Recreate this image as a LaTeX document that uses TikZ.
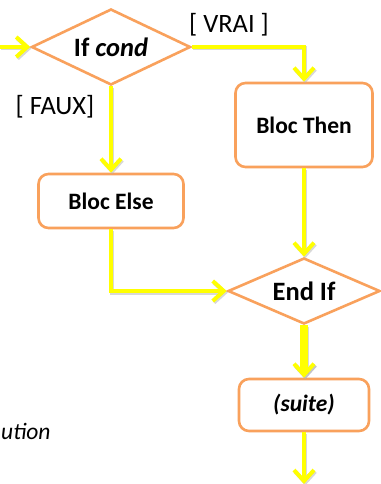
\documentclass[tikz,border=0pt]{standalone}
\usepackage{fontspec}
\setmainfont{Carlito}
\usetikzlibrary{shapes.geometric,arrows.meta}
\definecolor{flowyellow}{HTML}{FFFF00}
\definecolor{boxorange}{HTML}{F9A15C}
\begin{document}
\begin{tikzpicture}[x=1pt,y=-1pt,
  decision/.style={diamond,draw=boxorange,line width=2.6pt,fill=white,
    inner sep=0pt,aspect=2,font=\fontsize{26.5}{30}\selectfont\bfseries},
  block/.style={rectangle,rounded corners=10pt,draw=boxorange,line width=2.6pt,
    fill=white,inner sep=0pt,font=\fontsize{23.5}{28}\selectfont\bfseries},
  guard/.style={inner sep=0pt,font=\fontsize{26.5}{30}\selectfont},
  flow/.style={draw=flowyellow,line width=4pt,
    -{Straight Barb[length=11pt,width=20pt,line width=4pt]},
    preaction={draw=black!30,opacity=0.5,line width=4pt,
      transform canvas={xshift=1.2pt,yshift=-1.5pt}}},
  thick flow/.style={flow,line width=8pt,
    preaction={draw=black!30,opacity=0.5,line width=8pt,
      transform canvas={xshift=1.2pt,yshift=-1.5pt}}},
]
\useasboundingbox[fill=white] (0,0) rectangle (380,484);

% decisions and blocks
\node[decision,minimum width=159pt,minimum height=76pt] (ifc) at (111,47) {If \textit{cond}};
\node[block,minimum width=137pt,minimum height=84pt] (then) at (304,125) {Bloc Then};
\node[block,minimum width=145pt,minimum height=54pt] (else) at (111,201) {Bloc Else};
\node[decision,minimum width=152pt,minimum height=66pt] (endif) at (304,291) {End If};
\node[block,minimum width=130pt,minimum height=52pt] (suite) at (304,405) {\textit{(suite)}};

% guard labels
\node[guard] (vrai) at (229,25) {[ VRAI ]};
\node[guard] (faux) at (55,107) {[ FAUX]};
\node[guard,anchor=west,font=\fontsize{23.5}{28}\selectfont\itshape] (exec) at (1,431) {ution};

% free ends
\coordinate (in) at (0,47);
\coordinate (out) at (304,484);

% connectors
\draw[flow] (in) -- (ifc.west);
\draw[flow] (ifc.east) -| (then.north);
\draw[flow] (ifc.south) -- (else.north);
\draw[flow] (then.south) -- (endif.north);
\draw[flow] (else.south) |- (endif.west);
\draw[thick flow] (endif.south) -- (suite.north);
\draw[flow] (suite.south) -- (out);
\end{tikzpicture}
\end{document}
